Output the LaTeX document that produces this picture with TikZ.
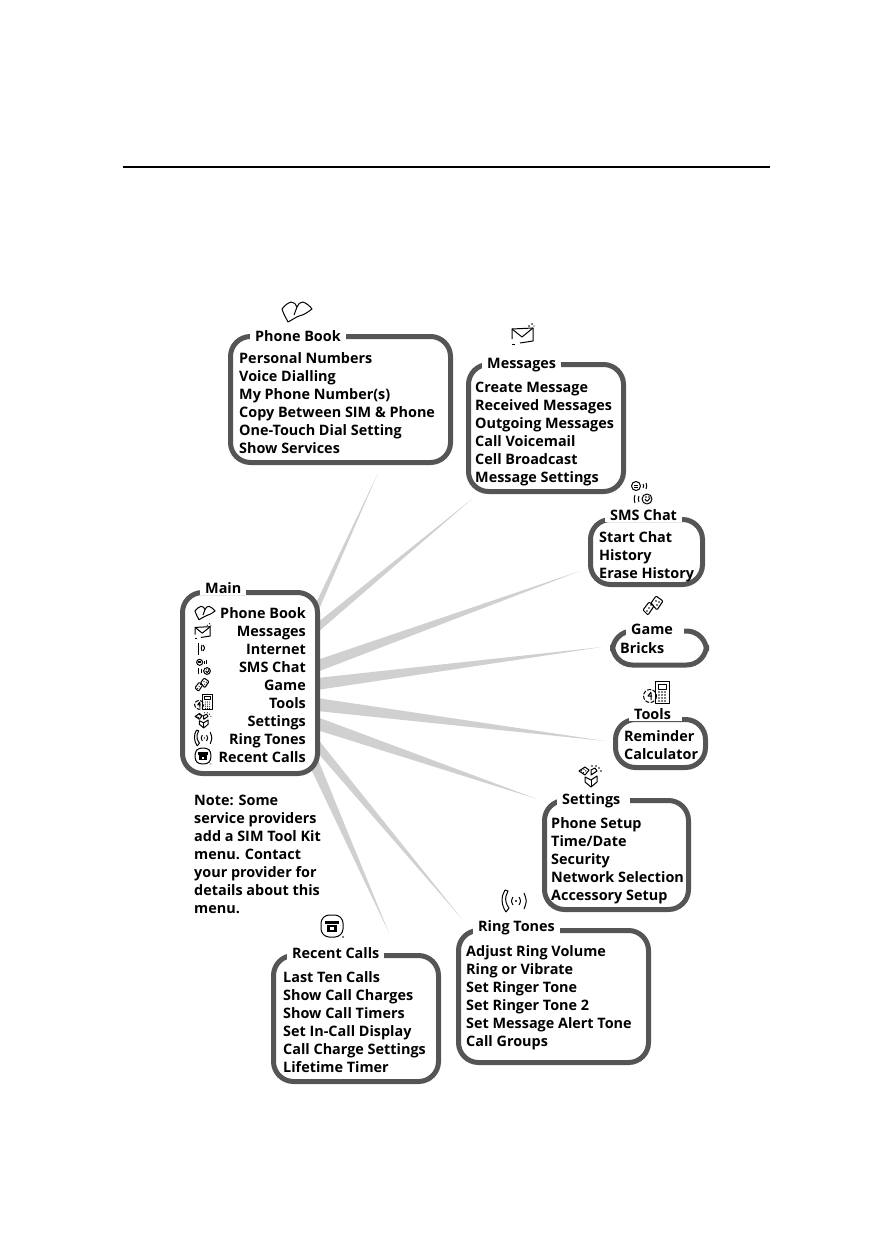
\documentclass[tikz,border=0pt]{standalone}
\usepackage{fontspec}
\setmainfont{Open Sans}
\usetikzlibrary{backgrounds,calc}
\definecolor{boxgray}{HTML}{555555}
\definecolor{raygray}{HTML}{D0D0D0}
\newcommand{\menufont}{\fontsize{14.4}{18}\selectfont\bfseries}
\tikzset{
	menubox/.style={draw=boxgray,fill=white,line width=5pt,rounded corners=20pt,anchor=north west,inner sep=0pt},
	menutitle/.style={fill=white,anchor=west,inner xsep=5pt,inner ysep=1pt,font=\menufont},
	menulist/.style={anchor=west,inner sep=0pt,align=left,font=\menufont},
	rayfill/.style={fill=raygray},
	iconline/.style={line width=1pt,black,line join=round},
	bookicon/.pic={
		\draw[iconline] (-15,-3) .. controls (-12,-7) and (-9,-9) .. (-6,-10)
			.. controls (-3,-10) and (-1,-8) .. (0,-5) .. controls (1,-8) and (3,-10) .. (6,-10)
			.. controls (9,-9) and (13,-6) .. (15,-3) .. controls (11,0) and (7,3) .. (2,4)
			.. controls (-1,5) and (-5,8) .. (-9,10) .. controls (-11,6) and (-14,1) .. (-15,-3);
		\draw[iconline] (0,-5) -- (-3,3);
	},
	mailicon/.pic={
		\draw[iconline] (-11,5) -- (-11,-5) -- (10,-6) -- (10,7) -- (-3,9);
		\draw[iconline] (-11,-5) -- (-1,3) -- (10,-6);
		\draw[iconline] (-11,10) -- (-8,10);
		\fill (6,-8) circle[radius=.9];
		\fill (9,-10) circle[radius=.8];
		\fill (11,-8) circle[radius=.7];
	},
	antennaicon/.pic={
		\draw[iconline] (-3,-6) -- (-3,6);
		\draw[iconline] (1,-4) .. controls (0,-1) .. (1,2);
		\draw[iconline] (2,-4) .. controls (4,-1) .. (2,2);
	},
	chaticon/.pic={
		\draw[iconline] (-5,-7) circle[radius=4.5];
		\draw[iconline] (-7,-8) -- (-3,-8) (-7,-6) -- (-3,-6);
		\draw[iconline] (2,-9) .. controls (3,-7) .. (2,-5) (5,-10) .. controls (6,-7) .. (5,-4);
		\draw[iconline] (6,6) circle[radius=5];
		\draw[iconline] (4,6) .. controls (6,9) .. (9,5);
		\fill (5,4) circle[radius=.8] (8,4) circle[radius=.8];
		\draw[iconline] (-2,3) .. controls (-3,6) .. (-2,9) (-6,2) .. controls (-7,6) .. (-6,10);
	},
	gameicon/.pic={
		\draw[iconline,rounded corners=1pt] (-10,4) -- (-4,-4) -- (1,0) -- (-5,9) -- cycle;
		\draw[iconline,rounded corners=1pt] (-2,-3) -- (3,-10) -- (10,-5) -- (4,4) -- cycle;
		\fill (-4,2) circle[radius=.9] (-2,-1) circle[radius=.9] (-6,5) circle[radius=.9];
		\fill (3,-5) circle[radius=.9] (6,-4) circle[radius=.9] (4,-1) circle[radius=.9];
	},
	toolsicon/.pic={
		\draw[iconline,fill=white] (-2,-11) rectangle (12,11);
		\draw[iconline] (1,-8) rectangle (9,-3);
		\foreach \xcol in {2,5,8}
			\foreach \ycol in {0,3,6,9}
				\fill (\xcol,\ycol) circle[radius=.8];
		\draw[iconline,dash pattern=on 4pt off 1.5pt] (-7,4) circle[radius=6.5];
		\draw[iconline] (-6,0) -- (-9,4) -- (-5,4) (-6,1) -- (-6,8);
	},
	settingsicon/.pic={
		\draw[iconline] (-5,1) -- (1,4) -- (7,0) -- (7,6) -- (1,11) -- (-5,6) -- cycle;
		\draw[iconline] (1,4) -- (1,11);
		\draw[iconline,fill=white] (-11,-5) -- (-5,-9) -- (-1,-6) -- (-5,-1) -- cycle;
		\draw[iconline,dotted] (-9,-5) -- (-4,-8) (-7,-3) -- (-3,-6);
		\draw[iconline,fill=white] (1,-6) -- (5,-8) -- (7,-5) -- (1,-1) -- cycle;
		\fill (6,-10) circle[radius=.8] (9,-8) circle[radius=.8] (11,-5) circle[radius=.8] (2,-10) circle[radius=.8];
	},
	ringicon/.pic={
		\draw[iconline] (-9,-11) .. controls (-13,-5) and (-13,4) .. (-8,11);
		\draw[iconline] (-9,-11) -- (-6,-10) -- (-8,-5) .. controls (-9,-1) and (-8,3) .. (-5,7) -- (-8,11);
		\draw[iconline] (-1,-4) .. controls (-3,0) .. (-1,4);
		\fill (2,0) circle[radius=1.1];
		\draw[iconline] (5,-4) .. controls (7,0) .. (5,4);
		\draw[iconline] (10,-8) .. controls (13,0) .. (10,8);
	},
	callicon/.pic={
		\draw[iconline,rounded corners=3pt] (-6,-11) -- (6,-11) -- (11,-6) -- (11,6) -- (6,11) -- (-6,11) -- (-11,6) -- (-11,-6) -- cycle;
		\fill (-7,-5) rectangle (7,-2);
		\fill (-5,-1) rectangle (5,6);
		\fill[white] (-2,1) rectangle (2,4);
		\fill (11,11) circle[radius=.8];
	}
}
\begin{document}
\begin{tikzpicture}[x=1pt,y=-1pt]
\useasboundingbox (0,0) rectangle (894,1260);
\draw[line width=2pt] (123,167) -- (770,167);

% the main menu
\node[menubox,minimum width=135pt,minimum height=181pt] (mainbox) at (180,590) {};
\node[menutitle] (maintitle) at (200,588) {Main};
\node[anchor=east,inner sep=0pt,align=right,font=\menufont] (mainlist) at (306,685)
	{Phone Book\\Messages\\Internet\\SMS Chat\\Game\\Tools\\Settings\\Ring Tones\\Recent Calls};
\pic[scale=.67] at (205,613) {bookicon};
\pic[scale=.72] at (203,631) {mailicon};
\pic at (201,649) {antennaicon};
\pic[scale=.67] at (203,667) {chaticon};
\pic[scale=.7] at (202,685) {gameicon};
\pic[scale=.7] at (204,702) {toolsicon};
\pic[scale=.72] at (203,720) {settingsicon};
\pic[scale=.72] at (203,738) {ringicon};
\pic[scale=.72] at (203,756) {callicon};

% the sub menus, clockwise
\node[menubox,minimum width=220pt,minimum height=126pt] (bookbox) at (228,334) {};
\node[menutitle] (booktitle) at (250,336) {Phone Book};
\node[menulist] (booklist) at (239,403) {Personal Numbers\\Voice Dialling\\My Phone Number(s)\\Copy Between SIM \& Phone\\One-Touch Dial Setting\\Show Services};
\pic[scale=1] at (297,312) {bookicon};

\node[menubox,minimum width=155pt,minimum height=127pt] (mailbox) at (466,362) {};
\node[menutitle] (mailtitle) at (482,365) {Messages};
\node[menulist] (maillist) at (475,434.5) {Create Message\\Received Messages\\Outgoing Messages\\Call Voicemail\\Cell Broadcast\\Message Settings};
\pic at (523,334) {mailicon};

\node[menubox,minimum width=112pt,minimum height=65pt] (chatbox) at (588,517) {};
\node[menutitle] (chattitle) at (605,515) {SMS Chat};
\node[menulist] (chatlist) at (599,557) {Start Chat\\History\\Erase History};
\pic at (641,493) {chaticon};

\node[menubox,minimum width=94pt,minimum height=34pt] (gamebox) at (610,628.5) {};
\node[menutitle] (gametitle) at (626,629) {Game\hspace*{6pt}};
\node[menulist] (gamelist) at (620,648) {Bricks};
\pic at (653,606) {gameicon};

\node[menubox,minimum width=90pt,minimum height=48pt] (toolsbox) at (613,717) {};
\node[menutitle] (toolstitle) at (629,714) {Tools\hspace*{6pt}};
\node[menulist] (toolslist) at (624,745) {Reminder\\Calculator};
\pic at (657,692) {toolsicon};

\node[menubox,minimum width=144pt,minimum height=109pt] (settingsbox) at (542,798) {};
\node[menutitle] (settingstitle) at (557,801) {Settings\hspace*{5pt}};
\node[menulist] (settingslist) at (551,861) {Phone Setup\\Time/Date\\Security\\Network Selection\\Accessory Setup};
\pic at (590,776) {settingsicon};

\node[menubox,minimum width=190pt,minimum height=132pt] (ringbox) at (456,928) {};
\node[menutitle] (ringtitle) at (473,928) {Ring Tones};
\node[menulist] (ringlist) at (466,998) {Adjust Ring Volume\\Ring or Vibrate\\Set Ringer Tone\\Set Ringer Tone 2\\Set Message Alert Tone\\Call Groups};
\pic at (514,901) {ringicon};

\node[menubox,minimum width=165pt,minimum height=126pt] (callbox) at (271,953) {};
\node[menutitle] (calltitle) at (287,953) {Recent Calls};
\node[menulist] (calllist) at (283,1022) {Last Ten Calls\\Show Call Charges\\Show Call Timers\\Set In-Call Display\\Call Charge Settings\\Lifetime Timer};
\pic at (332,926) {callicon};

\node[menulist] (notetext) at (194,854) {Note: Some\\service providers\\add a SIM Tool Kit\\menu. Contact\\your provider for\\details about this\\menu.};

% the tapered rays behind the boxes
\coordinate (booktip) at (378,473);
\coordinate (mailtip) at (472,499);
\coordinate (chattip) at (580,571);
\coordinate (gametip) at (602,647);
\coordinate (toolstip) at (605,741);
\coordinate (settingstip) at (537,799);
\coordinate (ringtip) at (462,919);
\coordinate (calltip) at (389,933);
\begin{scope}[on background layer]
\fill[rayfill] ($(mainbox.east)+(-3,-82)$) -- (booktip) -- ($(mainbox.east)+(-3,-69)$) -- cycle;
\fill[rayfill] ($(mainbox.east)+(-3,-60)$) -- (mailtip) -- ($(mainbox.east)+(-3,-50)$) -- cycle;
\fill[rayfill] ($(mainbox.east)+(-3,-23)$) -- (chattip) -- ($(mainbox.east)+(-3,-11)$) -- cycle;
\fill[rayfill] ($(mainbox.east)+(-3,-5)$) -- (gametip) -- ($(mainbox.east)+(-3,7)$) -- cycle;
\fill[rayfill] ($(mainbox.east)+(-3,15)$) -- (toolstip) -- ($(mainbox.east)+(-3,28)$) -- cycle;
\fill[rayfill] ($(mainbox.east)+(-3,34)$) -- (settingstip) -- ($(mainbox.east)+(-3,47)$) -- cycle;
\fill[rayfill] ($(mainbox.east)+(-3,55)$) -- (ringtip) -- ($(mainbox.east)+(-3,69)$) -- cycle;
\fill[rayfill] ($(mainbox.east)+(-3,74)$) -- (calltip) -- ($(mainbox.east)+(-8,88)$) -- cycle;
\end{scope}
\end{tikzpicture}
\end{document}
